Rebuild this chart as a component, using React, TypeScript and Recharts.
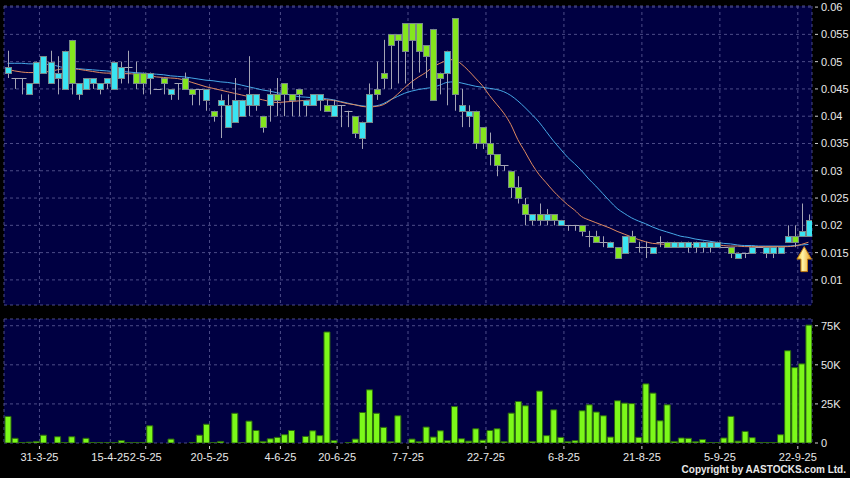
import React from "react";
import {
  ComposedChart,
  BarChart,
  Bar,
  Line,
  XAxis,
  YAxis,
  CartesianGrid,
  ReferenceDot,
} from "recharts";

// price panel bounds (domain)
const P_MIN = 0.0054;
const P_MAX = 0.0602;
const V_MAX = 79.3; // thousands

const opens = [
  0.048, 0.047, 0.047, 0.044, 0.046, 0.048, 0.046, 0.047, 0.045, 0.054,
  0.044, 0.045, 0.046, 0.045, 0.046, 0.045, 0.047, 0.049, 0.048, 0.048,
  0.047, 0.045, 0.047, 0.044, 0.046, 0.047, 0.045, 0.045, 0.043, 0.041,
  0.042, 0.038, 0.039, 0.04, 0.042, 0.042, 0.04, 0.042, 0.044, 0.046,
  0.044, 0.045, 0.042, 0.042, 0.043, 0.042, 0.04, 0.042, 0.041, 0.04,
  0.036, 0.039, 0.045, 0.048, 0.055, 0.055, 0.057, 0.057, 0.057, 0.053,
  0.056, 0.048, 0.048, 0.058, 0.041, 0.04, 0.041, 0.038, 0.035, 0.033,
  0.031, 0.03, 0.027, 0.024, 0.021, 0.022, 0.021, 0.022, 0.02, 0.02,
  0.02, 0.02, 0.018, 0.018, 0.017, 0.016, 0.016, 0.015, 0.018, 0.016,
  0.016, 0.015, 0.017, 0.017, 0.016, 0.016, 0.016, 0.016, 0.016, 0.016,
  0.016, 0.016, 0.016, 0.014, 0.015, 0.015, 0.016, 0.015, 0.015, 0.015,
  0.017, 0.018, 0.018, 0.018,
];

const closes = [
  0.049, 0.047, 0.047, 0.046, 0.05, 0.051, 0.05, 0.048, 0.052, 0.046,
  0.046, 0.047, 0.047, 0.046, 0.047, 0.05, 0.049, 0.049, 0.046, 0.046,
  0.048, 0.045, 0.046, 0.045, 0.046, 0.045, 0.044, 0.045, 0.045, 0.04,
  0.043, 0.042, 0.043, 0.043, 0.044, 0.044, 0.038, 0.044, 0.043, 0.044,
  0.043, 0.044, 0.043, 0.044, 0.044, 0.041, 0.042, 0.042, 0.041, 0.037,
  0.039, 0.044, 0.044, 0.047, 0.053, 0.054, 0.052, 0.054, 0.052, 0.051,
  0.043, 0.047, 0.052, 0.044, 0.042, 0.041, 0.035, 0.035, 0.033, 0.031,
  0.031, 0.027, 0.025, 0.022, 0.022, 0.021, 0.022, 0.021, 0.021, 0.02,
  0.02, 0.019, 0.018, 0.017, 0.017, 0.017, 0.014, 0.018, 0.017, 0.016,
  0.016, 0.016, 0.017, 0.016, 0.017, 0.017, 0.017, 0.017, 0.017, 0.017,
  0.017, 0.016, 0.015, 0.015, 0.015, 0.016, 0.016, 0.016, 0.016, 0.016,
  0.018, 0.017, 0.019, 0.021,
];

const highs = [
  0.052, 0.047, 0.047, 0.046, 0.05, 0.051, 0.052, 0.051, 0.052, 0.054,
  0.046, 0.047, 0.047, 0.046, 0.047, 0.05, 0.05, 0.052, 0.05, 0.048,
  0.048, 0.045, 0.047, 0.045, 0.046, 0.048, 0.045, 0.045, 0.045, 0.041,
  0.044, 0.044, 0.047, 0.043, 0.051, 0.044, 0.04, 0.045, 0.047, 0.046,
  0.044, 0.045, 0.043, 0.044, 0.044, 0.043, 0.043, 0.042, 0.041, 0.04,
  0.039, 0.046, 0.05, 0.054, 0.055, 0.055, 0.057, 0.057, 0.057, 0.053,
  0.056, 0.048, 0.052, 0.058, 0.045, 0.042, 0.041, 0.038, 0.037, 0.033,
  0.031, 0.03, 0.029, 0.025, 0.022, 0.024, 0.023, 0.022, 0.021, 0.02,
  0.02, 0.02, 0.019, 0.019, 0.018, 0.017, 0.016, 0.018, 0.019, 0.017,
  0.017, 0.016, 0.018, 0.017, 0.017, 0.017, 0.017, 0.017, 0.017, 0.017,
  0.017, 0.016, 0.016, 0.015, 0.015, 0.016, 0.016, 0.016, 0.016, 0.016,
  0.02, 0.02, 0.024, 0.022,
];

const lows = [
  0.047, 0.045, 0.044, 0.044, 0.046, 0.048, 0.046, 0.044, 0.045, 0.044,
  0.043, 0.045, 0.045, 0.044, 0.045, 0.045, 0.046, 0.046, 0.045, 0.044,
  0.044, 0.045, 0.044, 0.043, 0.043, 0.045, 0.042, 0.042, 0.041, 0.039,
  0.036, 0.038, 0.039, 0.04, 0.04, 0.041, 0.037, 0.039, 0.04, 0.04,
  0.04, 0.04, 0.04, 0.042, 0.041, 0.041, 0.04, 0.038, 0.038, 0.036,
  0.034, 0.039, 0.043, 0.045, 0.045, 0.046, 0.046, 0.045, 0.048, 0.047,
  0.043, 0.044, 0.042, 0.041, 0.038, 0.038, 0.034, 0.034, 0.031, 0.029,
  0.03, 0.025, 0.024, 0.02, 0.02, 0.02, 0.02, 0.02, 0.02, 0.019,
  0.019, 0.018, 0.016, 0.017, 0.016, 0.016, 0.014, 0.015, 0.017, 0.015,
  0.014, 0.015, 0.016, 0.016, 0.016, 0.016, 0.015, 0.015, 0.015, 0.015,
  0.016, 0.016, 0.014, 0.014, 0.014, 0.015, 0.016, 0.014, 0.014, 0.015,
  0.017, 0.016, 0.018, 0.018,
];

// short moving average (orange)
const maFast = [
  0.0486, 0.0483, 0.0481, 0.048, 0.048, 0.0481, 0.0482, 0.0485, 0.0487, 0.0487,
  0.0486, 0.0484, 0.0482, 0.048, 0.0479, 0.0479, 0.0478, 0.0478, 0.0477, 0.0475,
  0.0474, 0.0472, 0.0471, 0.047, 0.0469, 0.0466, 0.0462, 0.0458, 0.0454, 0.0451,
  0.0448, 0.0445, 0.0442, 0.0439, 0.0436, 0.0433, 0.043, 0.0427, 0.0425, 0.0426,
  0.0427, 0.0428, 0.0429, 0.043, 0.0431, 0.043, 0.0429, 0.0426, 0.0423, 0.0421,
  0.0418, 0.0417, 0.0418, 0.0421, 0.0429, 0.044, 0.0452, 0.0463, 0.0472, 0.048,
  0.049, 0.0497, 0.0502, 0.0504, 0.0496, 0.0484, 0.047, 0.0456, 0.0438, 0.0422,
  0.0406, 0.0385, 0.0357, 0.0335, 0.0312, 0.0293, 0.0278, 0.0263, 0.025, 0.0238,
  0.0228, 0.0216, 0.021, 0.0205, 0.02, 0.0195, 0.0189, 0.0184, 0.0179, 0.0174,
  0.017, 0.0167, 0.0166, 0.0165, 0.0165, 0.0165, 0.0165, 0.0165, 0.0165, 0.0164,
  0.0164, 0.0163, 0.0162, 0.0162, 0.0161, 0.0161, 0.0161, 0.0161, 0.0161, 0.0161,
  0.0161, 0.0162, 0.0165, 0.0169,
];

// long moving average (blue)
const maSlow = [
  0.0497, 0.0497, 0.0497, 0.0496, 0.0496, 0.0495, 0.0495, 0.0492, 0.0489, 0.0488,
  0.0487, 0.0486, 0.0485, 0.0484, 0.0483, 0.0482, 0.0482, 0.0481, 0.048, 0.0479,
  0.0478, 0.0477, 0.0476, 0.0474, 0.0473, 0.0472, 0.047, 0.0468, 0.0466, 0.0465,
  0.0463, 0.0462, 0.046, 0.0457, 0.0454, 0.0451, 0.0448, 0.0446, 0.0443, 0.0441,
  0.0439, 0.0436, 0.0435, 0.0434, 0.0433, 0.0432, 0.043, 0.0427, 0.0424, 0.0421,
  0.0419, 0.0418, 0.0419, 0.0423, 0.043, 0.0436, 0.0442, 0.0446, 0.0449, 0.0451,
  0.0453, 0.0457, 0.0462, 0.0463, 0.0461, 0.0458, 0.0455, 0.0453, 0.0451, 0.0449,
  0.0445, 0.0438, 0.0428, 0.0416, 0.0403, 0.0389, 0.0372, 0.0355, 0.034, 0.0325,
  0.0313, 0.03, 0.0285, 0.0272, 0.0258, 0.0244, 0.0231, 0.0222, 0.0214, 0.0208,
  0.0203, 0.0197, 0.0192, 0.0188, 0.0184, 0.018, 0.0178, 0.0175, 0.0173, 0.0171,
  0.0169, 0.0167, 0.0166, 0.0164, 0.0163, 0.0163, 0.0162, 0.0162, 0.0162, 0.0162,
  0.0162, 0.0163, 0.0164, 0.0165,
];

// volume in thousands of shares
const volumes = [
  17, 3, 0.3, 0.5, 1, 5, 0, 4, 0.3, 4,
  0, 3, 0.3, 0.2, 0.2, 0.2, 1.5, 0.2, 0.2, 0.2,
  11, 0, 0, 2.5, 0, 0, 0.2, 5, 12, 0.2,
  1, 0, 19, 0.2, 14, 8, 1, 2.7, 3.6, 5.3,
  8, 0, 4.2, 7.8, 4.7, 71, 1.5, 0, 0.3, 2.5,
  19.5, 34, 19, 10, 0.8, 17.4, 0, 2.5, 0.8, 10.2,
  3.8, 7.8, 1.5, 23.3, 2.7, 1.2, 9.1, 1.8, 8, 9.1,
  0.8, 19.1, 26.5, 23.8, 1, 33.2, 4.7, 21.2, 3.6, 0.8,
  1.5, 20.6, 24.4, 19.8, 17.4, 3.8, 27, 25.5, 25.2, 3.6,
  37.8, 31.9, 14.2, 24.4, 1, 3.2, 3, 0.8, 2.2, 0.3,
  0.2, 3.2, 17, 1.2, 7.4, 3.4, 0.3, 0.3, 0.3, 5.3,
  59, 48.2, 50.6, 75.4,
];

// first bar of each labelled date
const labelBars = [5, 15, 20, 29, 39, 47, 57, 68, 79, 90, 101, 112];
const labelDates = [
  "31-3-25", "15-4-25", "2-5-25", "20-5-25", "4-6-25", "20-6-25",
  "7-7-25", "22-7-25", "6-8-25", "21-8-25", "5-9-25", "22-9-25",
];
const priceTicks = [0.01, 0.015, 0.02, 0.025, 0.03, 0.035, 0.04, 0.045, 0.05, 0.055, 0.06];
const volumeTicks = [0, 25, 50, 75];
const arrowAt = { i: 112.4, price: 0.0161 };

const gridTicks = labelBars.map((b) => b - 0.5);
const X_DOMAIN = [-0.5, opens.length - 0.5];

const rows = opens.map((open, i) => ({
  i,
  open,
  high: highs[i],
  low: lows[i],
  close: closes[i],
  fast: maFast[i],
  slow: maSlow[i],
  vol: volumes[i],
}));

const FONT = "'Liberation Sans', Arial, sans-serif";
const NAVY = "#000042";
const GRID = "#4c4c88";
const CYAN = "#3ae4f2";
const GREEN = "#84e61e";
const WICK = "#a4a4b4";

const PRICE_MARGIN = { top: 6, right: 0, bottom: 5, left: 4 };

function Candle(props: any) {
  const { x, y, width, height, payload } = props;
  const { open, high, low, close } = payload;
  const k = height / (high - P_MIN);
  const py = (v: number) => y + (high - v) * k;
  const cx = Math.round(x + width / 2) + 0.5;
  const top = Math.round(py(Math.max(open, close)));
  const bot = Math.round(py(Math.min(open, close)));
  return (
    <g>
      {high !== low && (
        <line x1={cx} x2={cx} y1={py(high)} y2={py(low)} stroke={WICK} strokeWidth={1} />
      )}
      {open === close ? (
        <line x1={cx - 4} x2={cx + 4} y1={top + 0.5} y2={top + 0.5} stroke={WICK} strokeWidth={1} />
      ) : (
        <rect
          x={cx - 3}
          y={top + 0.5}
          width={6}
          height={Math.max(bot - top, 1)}
          fill={close > open ? CYAN : GREEN}
          stroke="#78888a"
          strokeWidth={1}
        />
      )}
    </g>
  );
}

function Arrow(props: any) {
  const { cx, cy } = props;
  const pts = [
    [cx, cy],
    [cx + 7.3, cy + 12.5],
    [cx + 3.3, cy + 12.5],
    [cx + 3.3, cy + 25],
    [cx - 3.3, cy + 25],
    [cx - 3.3, cy + 12.5],
    [cx - 7.3, cy + 12.5],
  ]
    .map((p) => p.join(","))
    .join(" ");
  return <polygon points={pts} fill="url(#arrowFill)" stroke="#c07a10" strokeWidth={1} />;
}

function RightTick(props: any) {
  const { x, y, payload, fmt } = props;
  return (
    <g>
      <line x1={x + 3} x2={x + 6} y1={y} y2={y} stroke="#d0d0d0" />
      <text x={x + 9} y={y + 4} fill="#e8e8e8" fontSize={11} fontFamily={FONT}>
        {fmt(payload.value)}
      </text>
    </g>
  );
}

function DateTick(props: any) {
  const { x, y, payload } = props;
  const idx = gridTicks.indexOf(payload.value);
  return (
    <g>
      <line x1={x} x2={x} y1={y + 3} y2={y + 6} stroke="#d0d0d0" />
      <text x={x} y={y + 18} textAnchor="middle" fill="#e8e8e8" fontSize={11} fontFamily={FONT}>
        {labelDates[idx]}
      </text>
    </g>
  );
}

const fmtPrice = (v: number) => `${+v.toFixed(3)}`;
const fmtVol = (v: number) => (v === 0 ? "0" : `${v}K`);

// shared axes for the two stacked price layers
function PriceAxes(showTicks: boolean) {
  return [
    <XAxis
      key="x"
      dataKey="i"
      type="number"
      domain={X_DOMAIN}
      ticks={gridTicks}
      interval={0}
      allowDataOverflow
      hide
    />,
    <YAxis
      key="y"
      orientation="right"
      type="number"
      domain={[P_MIN, P_MAX]}
      ticks={priceTicks}
      interval={0}
      allowDataOverflow
      width={38}
      axisLine={false}
      tickLine={false}
      tickSize={0}
      tickMargin={0}
      tick={showTicks ? (p: any) => <RightTick {...p} fmt={fmtPrice} /> : false}
    />,
  ];
}

export default function App() {
  return (
    <div
      style={{
        position: "absolute",
        left: 0,
        top: 0,
        width: 850,
        height: 478,
        background: "#000",
        overflow: "hidden",
      }}
    >
      {/* grid + moving averages underneath */}
      <div style={{ position: "absolute", left: 0, top: 0 }}>
        <ComposedChart width={850} height={310} data={rows} margin={PRICE_MARGIN}>
          <CartesianGrid stroke={GRID} strokeDasharray="3 3" fill={NAVY} fillOpacity={1} />
          {PriceAxes(true)}
          <Line
            dataKey="slow"
            type="monotone"
            stroke="#46a8e6"
            strokeWidth={1}
            dot={false}
            activeDot={false}
            isAnimationActive={false}
          />
          <Line
            dataKey="fast"
            type="monotone"
            stroke="#e08a60"
            strokeWidth={1}
            dot={false}
            activeDot={false}
            isAnimationActive={false}
          />
        </ComposedChart>
      </div>
      {/* candles on top */}
      <div style={{ position: "absolute", left: 0, top: 0 }}>
        <ComposedChart width={850} height={310} data={rows} margin={PRICE_MARGIN}>
          <defs>
            <linearGradient id="arrowFill" x1="0" y1="0" x2="1" y2="0">
              <stop offset="0%" stopColor="#f8c830" />
              <stop offset="40%" stopColor="#fff3a8" />
              <stop offset="100%" stopColor="#e89a18" />
            </linearGradient>
          </defs>
          {PriceAxes(false)}
          <Bar
            dataKey={(d: any) => [P_MIN, d.high]}
            barSize={6}
            shape={(p: any) => <Candle {...p} />}
            isAnimationActive={false}
          />
          <ReferenceDot
            x={arrowAt.i}
            y={arrowAt.price}
            r={0}
            ifOverflow="visible"
            shape={(p: any) => <Arrow {...p} />}
          />
        </ComposedChart>
      </div>
      <div style={{ position: "absolute", left: 0, top: 310 }}>
        <BarChart
          width={850}
          height={168}
          data={rows}
          margin={{ top: 9, right: 0, bottom: 0, left: 4 }}
        >
          <CartesianGrid stroke={GRID} strokeDasharray="3 3" fill={NAVY} fillOpacity={1} />
          <XAxis
            dataKey="i"
            type="number"
            domain={X_DOMAIN}
            ticks={gridTicks}
            interval={0}
            allowDataOverflow
            height={35}
            axisLine={false}
            tickLine={false}
            tickSize={0}
            tickMargin={0}
            tick={(p: any) => <DateTick {...p} />}
          />
          <YAxis
            orientation="right"
            type="number"
            domain={[0, V_MAX]}
            ticks={volumeTicks}
            interval={0}
            allowDataOverflow
            width={38}
            axisLine={false}
            tickLine={false}
            tickSize={0}
            tickMargin={0}
            tick={(p: any) => <RightTick {...p} fmt={fmtVol} />}
          />
          <Bar
            dataKey="vol"
            barSize={6}
            fill="#7cf81a"
            stroke="#2c6a0e"
            strokeWidth={1}
            isAnimationActive={false}
          />
        </BarChart>
      </div>
      <div
        style={{
          position: "absolute",
          right: 4,
          top: 464,
          fontFamily: FONT,
          fontSize: 10,
          fontWeight: "bold",
          lineHeight: "12px",
          color: "#e8e8e8",
          whiteSpace: "nowrap",
        }}
      >
        Copyright by AASTOCKS.com Ltd.
      </div>
    </div>
  );
}
